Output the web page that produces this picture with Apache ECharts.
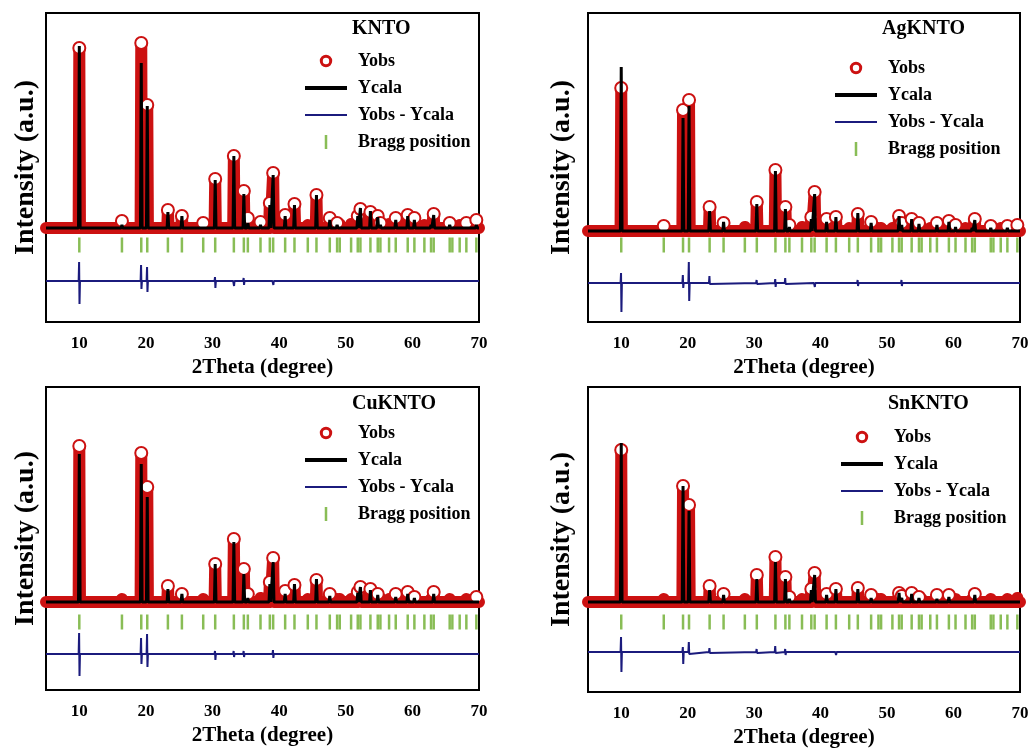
<!DOCTYPE html>
<html>
<head>
<meta charset="utf-8">
<script src="https://cdn.jsdelivr.net/npm/echarts@6/dist/echarts.min.js"></script>
<style>
  html, body { margin: 0; padding: 0; background: #fff; }
  #chart { width: 1032px; height: 754px; }
</style>
</head>
<body>
<div id="chart"></div>
<script>
// Bragg reflections (2Theta, degree), same set for all four samples
const braggPos = [10.0, 16.4, 19.3, 20.2, 23.3, 25.4, 28.6, 30.4, 33.2, 34.7, 35.3, 37.2, 38.6, 39.1,
  40.9, 42.3, 44.3, 45.6, 47.6, 48.7, 49.1, 50.8, 51.8, 52.2, 53.7, 54.8, 55.2, 56.5, 57.5, 59.3,
  60.3, 61.8, 62.8, 63.2, 65.6, 66.0, 67.1, 68.1, 69.6];

// peak heights above background (a.u.), one value per Bragg position
const obsKNTO  = [180, 7, 185, 123, 18, 12, 5, 49, 72, 37, 10, 6, 25, 55, 13, 24, 3, 33, 10, 5, 4, 4, 12, 19, 16, 12, 5, 4, 10, 13, 10, 3, 4, 14, 5, 3, 3, 5, 8];
const calcKNTO = [182, 3, 165, 122, 16, 12, 2, 48, 72, 34, 5, 3, 23, 53, 12, 23, 2, 33, 8, 3, 2, 2, 12, 20, 17, 11, 3, 2, 8, 12, 8, 2, 3, 13, 3, 2, 1, 2, 3];
const obsAg    = [143, 5, 121, 131, 24, 8, 4, 29, 61, 24, 6, 4, 14, 39, 12, 14, 3, 17, 9, 3, 3, 3, 15, 8, 12, 8, 4, 3, 8, 10, 6, 3, 4, 12, 5, 3, 3, 5, 6];
const calcAg   = [164, 2, 113, 125, 20, 9, 2, 27, 60, 22, 4, 2, 12, 37, 9, 14, 2, 18, 8, 2, 2, 2, 15, 6, 12, 7, 2, 2, 6, 9, 4, 2, 3, 11, 3, 2, 1, 3, 2];
const obsCu    = [156, 3, 149, 115, 16, 8, 3, 38, 63, 33, 8, 4, 20, 44, 11, 17, 3, 22, 8, 3, 3, 3, 10, 15, 13, 8, 4, 3, 8, 10, 5, 2, 3, 10, 3, 2, 2, 3, 5];
const calcCu   = [148, 2, 138, 105, 13, 8, 2, 38, 60, 28, 4, 2, 18, 40, 8, 18, 2, 23, 6, 2, 2, 2, 9, 15, 12, 7, 2, 2, 5, 8, 4, 1, 2, 8, 2, 1, 1, 2, 2];
const obsSn    = [152, 3, 116, 97, 16, 8, 3, 27, 45, 25, 5, 3, 13, 29, 8, 13, 2, 14, 7, 3, 3, 2, 9, 6, 9, 5, 3, 2, 7, 7, 3, 2, 3, 8, 3, 2, 2, 3, 4];
const calcSn   = [159, 1, 116, 91, 12, 7, 2, 23, 40, 23, 3, 2, 12, 27, 7, 13, 1, 13, 4, 2, 2, 1, 9, 4, 8, 4, 2, 1, 3, 5, 2, 1, 2, 7, 2, 1, 1, 2, 2];

// difference curve: positions of the visible spikes, upward / downward size
const diffPos    = [10.0, 19.3, 20.2, 23.3, 30.4, 33.2, 34.7, 39.1, 42.3, 45.6, 52.2, 63.2];
const diffUpKNTO = [19, 16, 14, 1, 4, 2, 3, 2, 1, 1, 1, 1];
const diffDnKNTO = [23, 8, 11, 1, 7, 5, 4, 4, 1, 1, 1, 1];
const diffUpAg   = [10, 8, 21, 7, 3, 4, 5, 2, 2, 3, 3, 2];
const diffDnAg   = [29, 5, 18, 1, 1, 4, 1, 4, 2, 3, 3, 2];
const diffUpCu   = [21, 16, 20, 2, 3, 3, 3, 4, 1, 1, 2, 2];
const diffDnCu   = [22, 10, 13, 1, 6, 3, 3, 4, 2, 2, 2, 1];
const diffUpSn   = [15, 5, 10, 4, 3, 6, 3, 2, 1, 1, 1, 1];
const diffDnSn   = [20, 12, 2, 1, 1, 1, 3, 1, 3, 1, 2, 1];

const samples = ['KNTO', 'AgKNTO', 'CuKNTO', 'SnKNTO'];
const diffOffset = [-53, -52, -52, -50];
const braggLevel = [-17, -14, -20, -20];
const yMin = [-94, -91, -88, -90];
const yMax = [215, 218, 215, 215];

const FONT = '"Liberation Serif", "Times New Roman", serif';
const RED = '#cc1111';
const NAVY = '#1b1b7d';
const GREEN = '#6cad2c';

// legend icons (drawn inside a 42 x 14 box)
const ICON_RING = 'path://M0,0h0.05v0.05h-0.05z M14,14h-0.05v-0.05h0.05z ' +
    'M13.2,7A6.2,6.2 0 0,1 0.8,7A6.2,6.2 0 0,1 13.2,7Z M10.2,7A3.2,3.2 0 0,0 3.8,7A3.2,3.2 0 0,0 10.2,7Z';
const ICON_THICK = 'path://M0,0h42v4h-42z';
const ICON_THIN = 'path://M0,0h42v2h-42z';
const ICON_TICK = 'path://M0,0h2.5v14h-2.5z';

function obsLine (h) {
    const pts = [[5, 0]];
    braggPos.forEach((p, i) => {
        pts.push([p - 0.1, 0]);
        pts.push(h[i] >= 5 ? {value: [p, h[i]], symbol: 'emptyCircle'} : [p, h[i]]);
        pts.push([p + 0.1, 0]);
    });
    pts.push([70, 0]);
    return pts;
}

function calcLine (h) {
    const pts = [[5, 0]];
    braggPos.forEach((p, i) => {
        pts.push([p - 0.12, 0], [p, h[i]], [p + 0.12, 0]);
    });
    pts.push([70, 0]);
    return pts;
}

function diffLine (up, dn, off) {
    const pts = [[5, off]];
    diffPos.forEach((p, i) => {
        pts.push([p - 0.1, off], [p - 0.03, off + up[i]], [p + 0.03, off - dn[i]], [p + 0.1, off]);
    });
    pts.push([70, off]);
    return pts;
}

const obsData = [obsKNTO, obsAg, obsCu, obsSn];
const calcData = [calcKNTO, calcAg, calcCu, calcSn];
const diffUp = [diffUpKNTO, diffUpAg, diffUpCu, diffUpSn];
const diffDn = [diffDnKNTO, diffDnAg, diffDnCu, diffDnSn];

const grids = [
    {left: 46, top: 13, width: 433, height: 309},
    {left: 588, top: 13, width: 432, height: 309},
    {left: 46, top: 387, width: 433, height: 303},
    {left: 588, top: 387, width: 432, height: 305},
];
const titlePos = [[352, 19], [882, 19], [352, 394], [888, 394]];
const legendPos = [[305, 52], [835, 59], [305, 424], [841, 428]];
const yNameGap = [6, 12, 6, 12];

const boldText = {fontFamily: FONT, fontWeight: 'bold', color: '#000'};

const option = {
    backgroundColor: '#fff',
    animation: false,
    title: samples.map((s, i) => ({
        text: s,
        left: titlePos[i][0],
        top: titlePos[i][1],
        padding: 0,
        textStyle: Object.assign({fontSize: 20}, boldText)
    })),
    legend: samples.map((s, i) => ({
        orient: 'vertical',
        left: legendPos[i][0],
        top: legendPos[i][1],
        padding: 0,
        itemWidth: 42,
        itemHeight: 14,
        itemGap: 9,
        selectedMode: false,
        textStyle: Object.assign({fontSize: 18, padding: [0, 0, 0, 6]}, boldText),
        data: [
            {name: 'Yobs', icon: ICON_RING, itemStyle: {color: RED, borderWidth: 0}},
            {name: 'Ycala', icon: ICON_THICK, itemStyle: {color: '#000', borderWidth: 0}},
            {name: 'Yobs - Ycala', icon: ICON_THIN, itemStyle: {color: NAVY, borderWidth: 0}},
            {name: 'Bragg position', icon: ICON_TICK, itemStyle: {color: GREEN, borderWidth: 0}}
        ]
    })),
    grid: grids.map(g => Object.assign({show: true, borderColor: '#000', borderWidth: 2, backgroundColor: 'transparent'}, g)),
    xAxis: samples.map((s, i) => ({
        gridIndex: i,
        type: 'value',
        min: 5,
        max: 70,
        interval: 5,
        axisLine: {lineStyle: {color: '#000', width: 2}},
        axisTick: {length: 6, lineStyle: {color: '#000', width: 2}},
        axisLabel: Object.assign({
            fontSize: 17,
            margin: 13,
            formatter: v => (v % 10 === 0 ? v : '')
        }, boldText),
        splitLine: {show: false},
        name: '2Theta (degree)',
        nameLocation: 'middle',
        nameGap: 35,
        nameTextStyle: Object.assign({fontSize: 21}, boldText)
    })),
    yAxis: samples.map((s, i) => ({
        gridIndex: i,
        type: 'value',
        min: yMin[i],
        max: yMax[i],
        axisLine: {show: false},
        axisTick: {show: false},
        axisLabel: {show: false},
        splitLine: {show: false},
        name: 'Intensity (a.u.)',
        nameLocation: 'middle',
        nameGap: yNameGap[i],
        nameTextStyle: Object.assign({fontSize: 28}, boldText)
    })),
    series: []
};

samples.forEach((s, i) => {
    option.series.push({
        name: 'Yobs',
        type: 'line',
        xAxisIndex: i,
        yAxisIndex: i,
        data: obsLine(obsData[i]),
        symbol: 'none',
        symbolSize: 12,
        showAllSymbol: true,
        itemStyle: {color: RED, borderColor: RED, borderWidth: 3.5},
        lineStyle: {color: RED, width: 12, join: 'round', cap: 'round'},
        z: 2
    });
    option.series.push({
        name: 'Ycala',
        type: 'line',
        xAxisIndex: i,
        yAxisIndex: i,
        data: calcLine(calcData[i]),
        symbol: 'none',
        itemStyle: {color: '#000'},
        lineStyle: {color: '#000', width: 3},
        z: 3
    });
    option.series.push({
        name: 'Yobs - Ycala',
        type: 'line',
        xAxisIndex: i,
        yAxisIndex: i,
        data: diffLine(diffUp[i], diffDn[i], diffOffset[i]),
        symbol: 'none',
        itemStyle: {color: NAVY},
        lineStyle: {color: NAVY, width: 2},
        z: 3
    });
    option.series.push({
        name: 'Bragg position',
        type: 'scatter',
        xAxisIndex: i,
        yAxisIndex: i,
        data: braggPos.map(p => [p, braggLevel[i]]),
        symbol: 'rect',
        symbolSize: [2.5, 15],
        itemStyle: {color: GREEN},
        z: 3
    });
});

const chart = echarts.init(document.getElementById('chart'));
chart.setOption(option);
</script>
</body>
</html>
